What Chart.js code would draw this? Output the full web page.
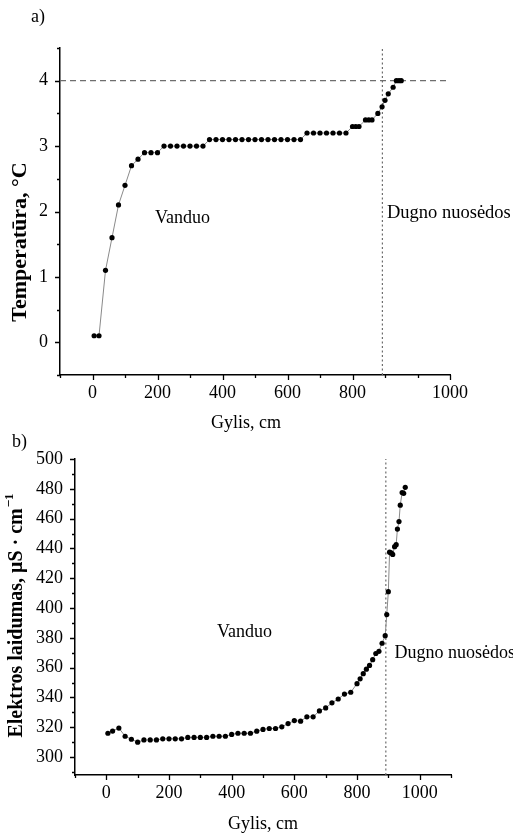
<!DOCTYPE html>
<html>
<head>
<meta charset="utf-8">
<script src="https://cdn.jsdelivr.net/npm/chart.js@4.4.0/dist/chart.umd.min.js"></script>
<style>
  body { margin: 0; background: #fff; }
  #wrap { position: relative; width: 513px; height: 836px; overflow: hidden; }
  #tempChart { position: absolute; left: 0; top: 0; }
  #condChart { position: absolute; left: 0; top: 425px; }
</style>
</head>
<body>
<div id="wrap">
  <canvas id="tempChart" width="513" height="436"></canvas>
  <canvas id="condChart" width="513" height="411"></canvas>
</div>
<script>
// a) Temperatūra pagal gylį
const tempDepth = [5, 20, 40, 60, 80, 100, 120, 140, 160, 180, 200,
  220, 240, 260, 280, 300, 320, 340,
  360, 380, 400, 420, 440, 460, 480, 500, 520, 540, 560, 580, 600, 620, 640,
  660, 680, 700, 720, 740, 760, 780,
  800, 810, 820, 840, 850, 860, 878, 891, 900, 910, 925, 935, 943, 950];
const tempValues = [0.1, 0.1, 1.1, 1.6, 2.1, 2.4, 2.7, 2.8, 2.9, 2.9, 2.9,
  3.0, 3.0, 3.0, 3.0, 3.0, 3.0, 3.0,
  3.1, 3.1, 3.1, 3.1, 3.1, 3.1, 3.1, 3.1, 3.1, 3.1, 3.1, 3.1, 3.1, 3.1, 3.1,
  3.2, 3.2, 3.2, 3.2, 3.2, 3.2, 3.2,
  3.3, 3.3, 3.3, 3.4, 3.4, 3.4, 3.5, 3.6, 3.7, 3.8, 3.9, 4.0, 4.0, 4.0];

// b) Elektros laidumas pagal gylį
const condDepth = [5, 20, 40, 60, 80, 100, 120, 140, 160, 180, 200, 220, 240,
  260, 280, 300, 320, 340, 360, 380, 400, 420, 440, 460, 480,
  500, 520, 540, 560, 580, 600, 620, 640, 660, 680, 700, 720, 740, 760, 780, 800,
  810, 820, 830, 840, 850, 860, 870, 880, 890, 895, 900,
  904, 909, 914, 920, 925, 929, 934, 938, 944, 949, 954];
const condValues = [316, 317.5, 319.5, 314, 312, 310, 311.5, 311.5, 311.5, 312.3, 312.3, 312.3, 312.3,
  313.2, 313.2, 313.2, 313.2, 314, 314, 314, 315.2, 316, 316, 316, 317.4,
  318.6, 319.2, 319.2, 320.3, 322.5, 324.5, 324.1, 327, 327, 331, 333, 336.4, 339, 342.3, 343.5, 349.3,
  352.5, 356, 359, 361.5, 365.4, 369.5, 371, 376.4, 381.5, 395.6, 411,
  437.5, 437, 436, 441.2, 442.5, 453, 458, 469, 477.5, 477, 481];

// ašys
const tempXTicks = [-100, 0, 100, 200, 300, 400, 500, 600, 700, 800, 900, 1000, 1100];
const tempXLabels = ['', '0', '', '200', '', '400', '', '600', '', '800', '', '', '1000'];
const tempYTicks = [-0.5, 0, 0.5, 1, 1.5, 2, 2.5, 3, 3.5, 4, 4.5];
const tempYLabels = ['', '0', '', '1', '', '2', '', '3', '', '4', ''];

const condXTicks = [-100, 0, 100, 200, 300, 400, 500, 600, 700, 800, 900, 1000, 1100];
const condXLabels = ['', '0', '', '200', '', '400', '', '600', '', '800', '', '1000', ''];
const condYTicks = [290, 300, 310, 320, 330, 340, 350, 360, 370, 380, 390, 400,
  410, 420, 430, 440, 450, 460, 470, 480, 490, 500];
const condYLabels = ['', '300', '', '320', '', '340', '', '360', '', '380', '', '400',
  '', '420', '', '440', '', '460', '', '480', '', '500'];

// ribos: 4 °C ir dugno nuosėdų riba
const maxDensityTemp = 4;
const bottomDepth = 892;

const SERIF = "'Liberation Serif', 'Times New Roman', serif";

// trumpos ir ilgos padalos į išorę
const tickMarks = {
  id: 'tickMarks',
  afterDraw(chart) {
    const ctx = chart.ctx;
    const xs = chart.scales.x, ys = chart.scales.y;
    const area = chart.chartArea;
    ctx.save();
    ctx.strokeStyle = '#000';
    ctx.lineWidth = 1.3;
    ctx.beginPath();
    xs.ticks.forEach(t => {
      const px = Math.round(xs.getPixelForValue(t.value)) + 0.5;
      const len = t.label !== '' ? 5 : 3;
      ctx.moveTo(px, area.bottom);
      ctx.lineTo(px, area.bottom + len);
    });
    ys.ticks.forEach(t => {
      const py = Math.round(ys.getPixelForValue(t.value)) + 0.5;
      const len = t.label !== '' ? 5 : 3;
      ctx.moveTo(area.left, py);
      ctx.lineTo(area.left - len, py);
    });
    ctx.stroke();
    ctx.restore();
  }
};

// užrašai: x,y duomenų vienetais arba px,py pikseliais
const notes = {
  id: 'notes',
  afterDraw(chart, args, opts) {
    const ctx = chart.ctx;
    const xs = chart.scales.x, ys = chart.scales.y;
    (opts.items || []).forEach(n => {
      const px = n.px !== undefined ? n.px : xs.getPixelForValue(n.x);
      const py = n.py !== undefined ? n.py : ys.getPixelForValue(n.y);
      ctx.save();
      ctx.fillStyle = '#000';
      ctx.font = n.font;
      ctx.textBaseline = 'middle';
      ctx.translate(px, py);
      if (n.rotate) ctx.rotate(-Math.PI / 2);
      const w = ctx.measureText(n.text).width;
      let sw = 0;
      if (n.sup) {
        ctx.font = n.supFont;
        sw = ctx.measureText(n.sup).width;
        ctx.font = n.font;
      }
      let x0 = 0;
      if (n.align === 'center') x0 = -(w + sw) / 2;
      else if (n.align === 'right') x0 = -(w + sw);
      ctx.textAlign = 'left';
      ctx.fillText(n.text, x0, 0);
      if (n.sup) {
        ctx.font = n.supFont;
        ctx.fillText(n.sup, x0 + w + 1, -7);
      }
      ctx.restore();
    });
  }
};

function pts(xs, ys) {
  return xs.map((x, i) => ({ x: x, y: ys[i] }));
}

function axis(min, max, tickVals, tickLabels, fixedSize, isX, title) {
  const cfg = {
    type: 'linear',
    min: min,
    max: max,
    afterBuildTicks: s => { s.ticks = tickVals.map(v => ({ value: v })); },
    afterFit: s => { if (isX) s.height = fixedSize; else s.width = fixedSize; },
    grid: { display: false, drawTicks: false },
    border: { display: true, color: '#000', width: 1.5 },
    ticks: {
      autoSkip: false,
      maxRotation: 0,
      padding: isX ? 7 : 12,
      color: '#000',
      font: { family: SERIF, size: 18 },
      callback: (v, i) => tickLabels[i]
    }
  };
  if (title) {
    cfg.title = {
      display: true,
      text: title,
      color: '#000',
      font: { family: SERIF, size: 18 },
      padding: { top: 0, bottom: 1 }
    };
  }
  return cfg;
}

function baseOptions(pad, scales, items) {
  return {
    responsive: false,
    animation: false,
    layout: { padding: pad },
    plugins: {
      legend: { display: false },
      tooltip: { enabled: false },
      notes: { items: items }
    },
    scales: scales
  };
}

function dataSet(data) {
  return {
    data: data,
    showLine: true,
    borderColor: '#8a8a8a',
    borderWidth: 1,
    pointRadius: 2.6,
    pointBackgroundColor: '#000',
    pointBorderWidth: 0
  };
}

function refLine(data, dash) {
  return {
    data: data,
    showLine: true,
    borderColor: '#6e6e6e',
    borderWidth: 1.2,
    borderDash: dash,
    pointRadius: 0
  };
}

new Chart(document.getElementById('tempChart'), {
  type: 'scatter',
  data: {
    datasets: [
      dataSet(pts(tempDepth, tempValues)),
      refLine([{ x: -100, y: maxDensityTemp }, { x: 1095, y: maxDensityTemp }], [6, 4]),
      refLine([{ x: bottomDepth, y: -0.5 }, { x: bottomDepth, y: 4.5 }], [2, 2.5])
    ]
  },
  options: baseOptions({ top: 48, right: 63, left: 0, bottom: 0 }, {
    x: axis(-100, 1100, tempXTicks, tempXLabels, 61, true, null),
    y: axis(-0.5, 4.5, tempYTicks, tempYLabels, 60, false, null)
  }, [
    { text: 'a)', px: 31, py: 17, font: '18px ' + SERIF },
    { text: 'Gylis, cm', px: 246, py: 423, align: 'center', font: '18px ' + SERIF },
    { text: 'Temperatūra, °C', px: 20, py: 242, rotate: true, align: 'center', font: 'bold 22px ' + SERIF },
    { text: 'Vanduo', x: 277, y: 1.9, align: 'center', font: '18px ' + SERIF },
    { text: 'Dugno nuosėdos', x: 906, y: 1.98, font: '18.5px ' + SERIF }
  ]),
  plugins: [tickMarks, notes]
});

new Chart(document.getElementById('condChart'), {
  type: 'scatter',
  data: {
    datasets: [
      dataSet(pts(condDepth, condValues)),
      refLine([{ x: bottomDepth, y: 288 }, { x: bottomDepth, y: 500 }], [2, 2.5])
    ]
  },
  options: baseOptions({ top: 34, right: 62, left: 0, bottom: 0 }, {
    x: axis(-100, 1100, condXTicks, condXLabels, 61, true, 'Gylis, cm'),
    y: axis(288, 500, condYTicks, condYLabels, 75, false, null)
  }, [
    { text: 'b)', px: 12, py: 17, font: '18px ' + SERIF },
    { text: 'Elektros laidumas, μS · cm', sup: '−1', supFont: 'bold 13px ' + SERIF,
      px: 17, py: 191, rotate: true, align: 'center', font: 'bold 20px ' + SERIF },
    { text: 'Vanduo', x: 441, y: 383.5, align: 'center', font: '18px ' + SERIF },
    { text: 'Dugno nuosėdos', x: 920, y: 370, font: '18px ' + SERIF }
  ]),
  plugins: [tickMarks, notes]
});
</script>
</body>
</html>
